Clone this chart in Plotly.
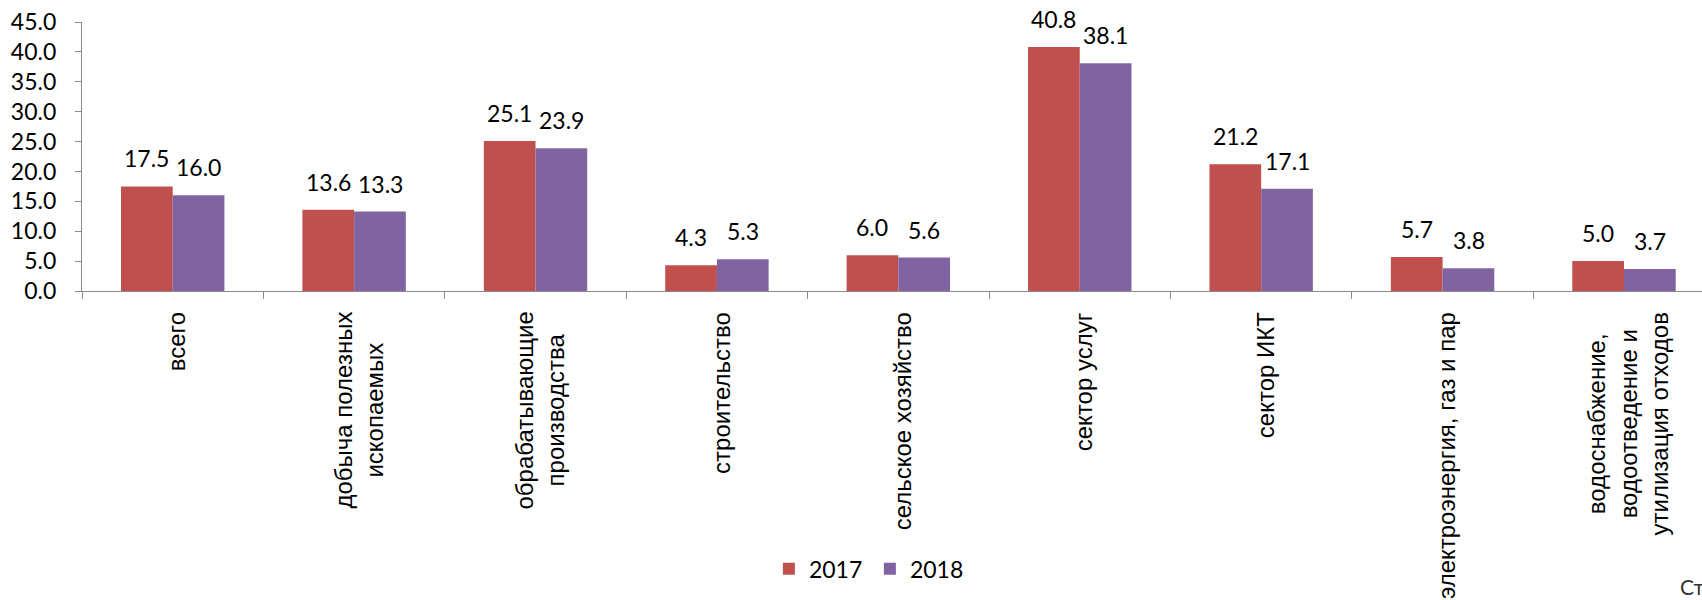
import plotly.graph_objects as go

categories = ["всего", "добыча полезных ископаемых", "обрабатывающие производства",
              "строительство", "сельское хозяйство", "сектор услуг", "сектор ИКТ",
              "электроэнергия, газ и пар",
              "водоснабжение, водоотведение и утилизация отходов"]
category_labels = ["всего", "добыча полезных<br>ископаемых", "обрабатывающие<br>производства",
                   "строительство", "сельское хозяйство", "сектор услуг", "сектор ИКТ",
                   "электроэнергия, газ и пар",
                   "водоснабжение,<br>водоотведение и<br>утилизация отходов"]
series_names = ["2017", "2018"]
values_2017 = [17.5, 13.6, 25.1, 4.3, 6.0, 40.8, 21.2, 5.7, 5.0]
values_2018 = [16.0, 13.3, 23.9, 5.3, 5.6, 38.1, 17.1, 3.8, 3.7]
y_ticks = [0, 5, 10, 15, 20, 25, 30, 35, 40, 45]

colors = ["#C0504D", "#8064A2"]
num_font = "Lato"
cat_font = "Liberation Sans"
axis_color = "#898989"

fig = go.Figure()
for name, vals, col in zip(series_names, [values_2017, values_2018], colors):
    fig.add_trace(go.Bar(x=categories, y=vals, name=name, marker_color=col,
                         marker_line_width=0))

annotations = []
for vals, shift in [(values_2017, -26), (values_2018, 26)]:
    for c, v in zip(categories, vals):
        annotations.append(dict(x=c, y=v, xref="x", yref="y", text=f"{v:.1f}",
                                showarrow=False, xshift=shift, yshift=12,
                                yanchor="bottom", xanchor="center",
                                font=dict(family=num_font, size=23, color="black")))
for c, lab in zip(categories, category_labels):
    annotations.append(dict(x=c, y=0, xref="x", yref="y", text=lab, textangle=-90,
                            showarrow=False, yanchor="top", xanchor="center",
                            align="center", yshift=-19, xshift=4,
                            font=dict(family=cat_font, size=24, color="black")))
annotations.append(dict(x=0.985, y=-1.10, xref="paper", yref="paper", text="Ст",
                        showarrow=False, xanchor="left", yanchor="middle",
                        font=dict(family=num_font, size=21, color="#333333")))

fig.update_layout(
    width=1702, height=600,
    margin=dict(l=82, r=0, t=22, b=309, autoexpand=False),
    paper_bgcolor="white", plot_bgcolor="white",
    barmode="group", bargap=0.43, bargroupgap=0,
    showlegend=True,
    legend=dict(orientation="h", x=0.424, xanchor="left", y=-1.033, yanchor="middle",
                font=dict(family=num_font, size=23, color="black"),
                entrywidth=56, entrywidthmode="pixels", traceorder="normal"),
    annotations=annotations,
    xaxis=dict(type="category", range=[-0.5, 8.43], showline=True, linecolor=axis_color,
               linewidth=1.3, ticks="outside", tickson="boundaries", ticklen=7,
               tickcolor=axis_color, showticklabels=False, showgrid=False, zeroline=False),
    yaxis=dict(range=[0, 45], tickvals=y_ticks, tickformat=".1f", showline=True,
               linecolor=axis_color, linewidth=1.3, ticks="outside", ticklen=6,
               tickcolor=axis_color, showgrid=False, zeroline=False,
               ticklabelstandoff=14, ticklabeloverflow="allow",
               tickfont=dict(family=num_font, size=23, color="black")),
)

fig.write_html("out.html", config={"displayModeBar": False},
               post_script="document.body.style.margin='0';document.body.style.overflow='hidden';")
